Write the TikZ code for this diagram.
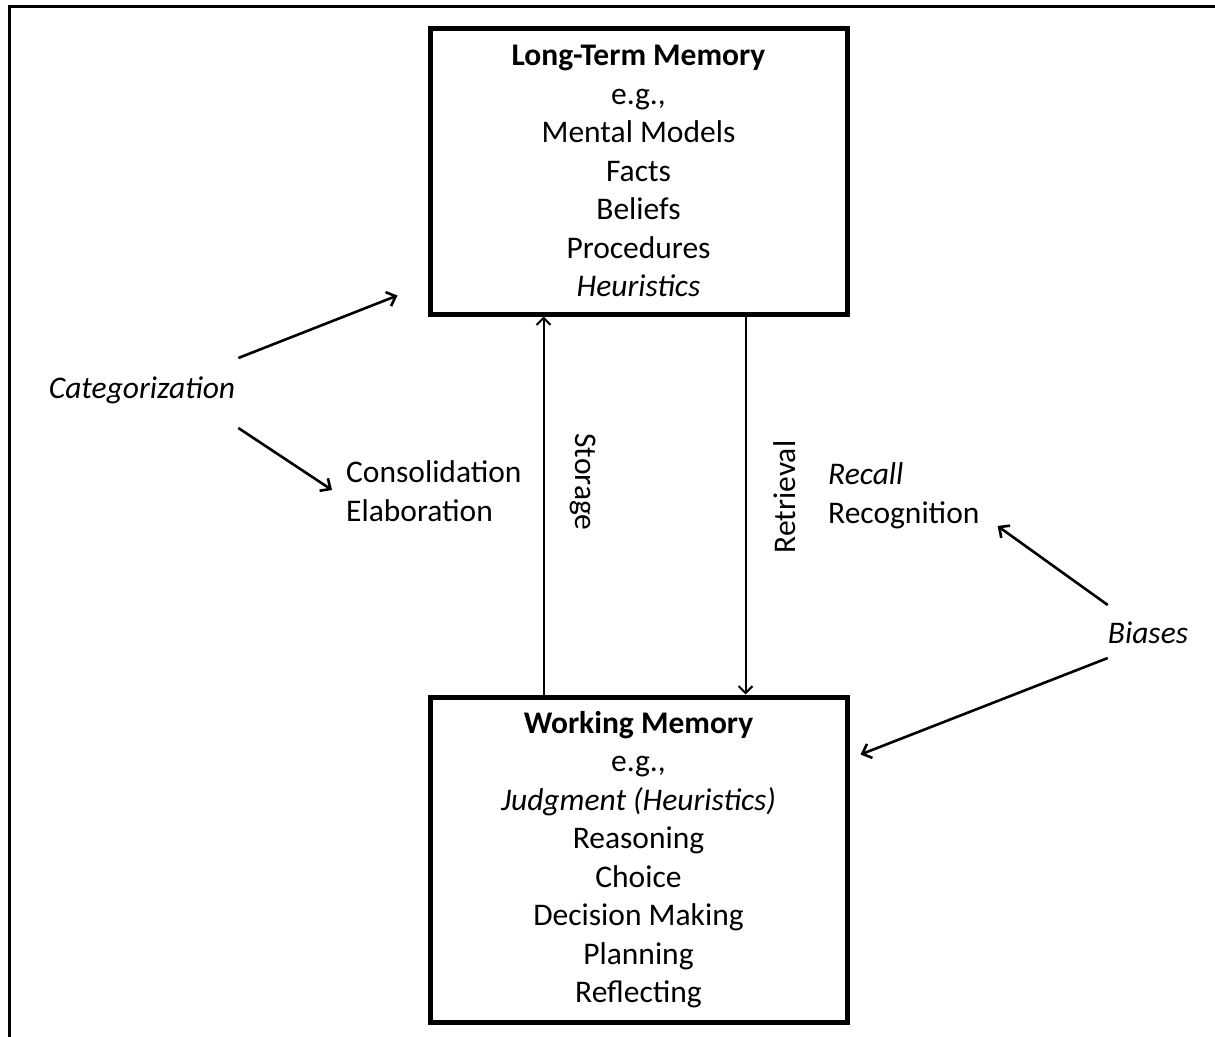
\documentclass[tikz,border=0pt]{standalone}
\usepackage{fontspec}
\setmainfont{Carlito}
\usepackage{tikz}
\usetikzlibrary{arrows.meta}
\tikzstyle{arrow} = [-{Straight Barb[length=8pt,width=15pt]},line width=2.6pt]
\tikzstyle{flow} = [-{Straight Barb[length=7pt,width=14pt]},line width=2pt]
\tikzstyle{membox} = [draw,line width=5pt,minimum width=417pt,align=center]
\tikzstyle{lab} = [inner sep=0pt]
\newcommand{\bigtxt}{\fontsize{31.5pt}{38.5pt}\selectfont}
\begin{document}
\begin{tikzpicture}[x=1pt,y=1pt,font=\bigtxt]
      \useasboundingbox(0,0)rectangle(1215,-1036);
      \draw[line width=3pt](9,-1045)--(9,-6)--(1225,-6);
      \node[membox,minimum height=286pt](ltm)at(638.5,-171){\textbf{Long-Term Memory}\\e.g.,\\Mental Models\\Facts\\Beliefs\\Procedures\\\textit{Heuristics}};
      \node[membox,minimum height=325pt](wm)at(638.5,-859.5){\textbf{Working Memory}\\e.g.,\\\textit{Judgment (Heuristics)}\\Reasoning\\Choice\\Decision Making\\Planning\\Reflecting};
      \node[lab](cat)at(142,-390){\textit{Categorization}};
      \node[lab,anchor=west,align=left](cons)at(346,-491){Consolidation\\Elaboration};
      \node[lab,anchor=west,align=left](rec)at(828,-496){\textit{Recall}\\Recognition};
      \node[lab](bias)at(1148,-633){\textit{Biases}};
      \node[lab,rotate=-90](stor)at(583,-482){Storage};
      \node[lab,rotate=90](retr)at(785,-497){Retrieval};
      \draw[flow]([xshift=-95pt]wm.north)--([xshift=-95pt]ltm.south);
      \draw[flow]([xshift=107pt]ltm.south)--([xshift=107pt]wm.north);
      \draw[arrow]([xshift=3pt,yshift=32pt]cat.east)--([xshift=-30pt,yshift=21pt]ltm.south west);
      \draw[arrow]([xshift=3pt,yshift=-38pt]cat.east)--([xshift=-14pt,yshift=1pt]cons.west);
      \draw[arrow]([yshift=28pt]bias.west)--([xshift=18pt,yshift=-30pt]rec.east);
      \draw[arrow]([yshift=-25pt]bias.west)--([xshift=11pt,yshift=-60pt]wm.north east);
    \end{tikzpicture}
\end{document}
